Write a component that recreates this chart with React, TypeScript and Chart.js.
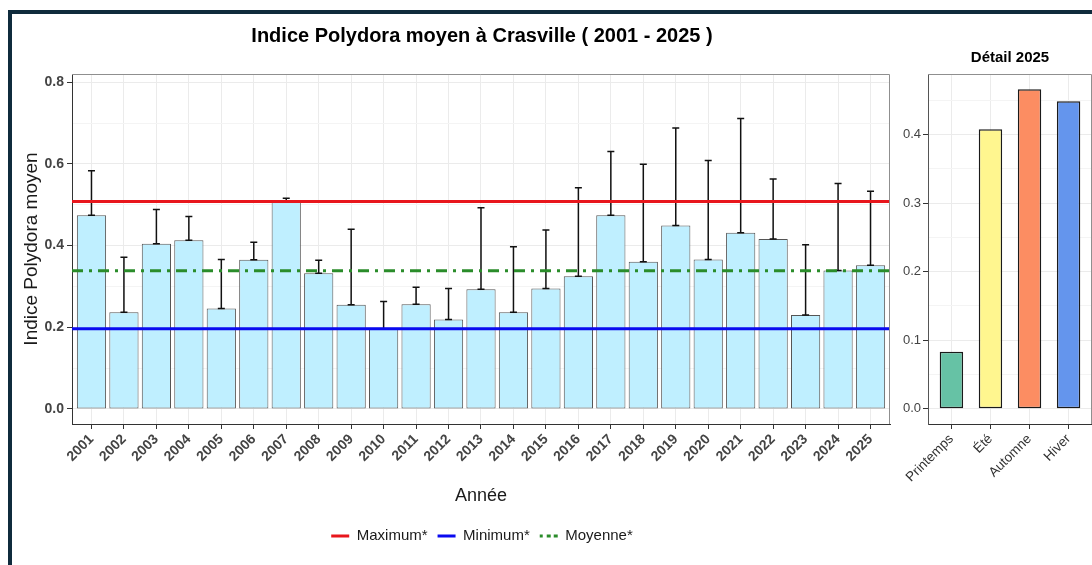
import React, { useEffect, useRef } from "react";
import { Chart, registerables } from "chart.js";

Chart.register(...registerables);

const FONT = "'Liberation Sans', Arial, Helvetica, sans-serif";

// ---- Data ----
const YEARS = [
  "2001", "2002", "2003", "2004", "2005", "2006", "2007", "2008", "2009", "2010",
  "2011", "2012", "2013", "2014", "2015", "2016", "2017", "2018", "2019", "2020",
  "2021", "2022", "2023", "2024", "2025",
];
const MEAN_INDEX = [
  0.474, 0.2365, 0.4045, 0.413, 0.246, 0.365, 0.508, 0.332, 0.255, 0.1965,
  0.256, 0.219, 0.293, 0.2365, 0.295, 0.325, 0.474, 0.36, 0.449, 0.366,
  0.431, 0.416, 0.23, 0.339, 0.352,
];
const ERROR_UPPER = [
  0.583, 0.371, 0.488, 0.471, 0.366, 0.408, 0.516, 0.364, 0.44, 0.263,
  0.298, 0.295, 0.4925, 0.397, 0.438, 0.5415, 0.63, 0.599, 0.688, 0.608,
  0.711, 0.563, 0.402, 0.552, 0.533,
];
const REF_LABELS = ["Maximum*", "Minimum*", "Moyenne*"];
const REF_VALUES = [0.508, 0.1965, 0.338];
const REF_COLORS = ["#e8161c", "#0a0af0", "#2a8c2a"];

const MAIN_Y_MAJOR = [0, 0.2, 0.4, 0.6, 0.8];
const MAIN_Y_MINOR = [0.1, 0.3, 0.5, 0.7];

const SEASONS = ["Printemps", "Été", "Automne", "Hiver"];
const SEASON_2025 = [0.083, 0.408, 0.4665, 0.449];
const SEASON_COLORS = ["#66c2a5", "#fff68f", "#fc8d62", "#6495ed"];
const DETAIL_Y_MAJOR = [0, 0.1, 0.2, 0.3, 0.4];
const DETAIL_Y_MINOR = [0.05, 0.15, 0.25, 0.35, 0.45];

const MAIN_TITLE = "Indice Polydora moyen à Crasville ( 2001 - 2025 )";
const DETAIL_TITLE = "Détail 2025";

const isIn = (list: number[], v: number) => list.some((m) => Math.abs(m - v) < 1e-6);

const frameTopRight = {
  id: "frameTopRight",
  afterDraw(chart: any) {
    const { ctx, chartArea: a } = chart;
    ctx.save();
    ctx.strokeStyle = "#8f8f8f";
    ctx.lineWidth = 1;
    ctx.beginPath();
    ctx.moveTo(a.left, a.top + 0.5);
    ctx.lineTo(a.right - 0.5, a.top + 0.5);
    ctx.lineTo(a.right - 0.5, a.bottom);
    ctx.stroke();
    ctx.restore();
  },
};

const errorBars = {
  id: "errorBars",
  afterDatasetDraw(chart: any, args: any) {
    if (args.meta.type !== "bar") return;
    const { ctx } = chart;
    const xs = chart.scales.x;
    const ys = chart.scales.y;
    ctx.save();
    ctx.strokeStyle = "#111";
    ctx.lineWidth = 1.5;
    YEARS.forEach((_, i) => {
      const px = xs.getPixelForValue(i);
      const y0 = ys.getPixelForValue(MEAN_INDEX[i]);
      const y1 = ys.getPixelForValue(ERROR_UPPER[i]);
      ctx.beginPath();
      ctx.moveTo(px, y0);
      ctx.lineTo(px, y1);
      ctx.moveTo(px - 3.5, y1);
      ctx.lineTo(px + 3.5, y1);
      ctx.moveTo(px - 3.5, y0);
      ctx.lineTo(px + 3.5, y0);
      ctx.stroke();
    });
    ctx.restore();
  },
};

const detailTitle = {
  id: "detailTitle",
  afterDraw(chart: any) {
    const { ctx, chartArea: a } = chart;
    ctx.save();
    ctx.font = `bold 15px ${FONT}`;
    ctx.fillStyle = "#000";
    ctx.textAlign = "center";
    ctx.textBaseline = "middle";
    ctx.fillText(DETAIL_TITLE, (a.left + a.right) / 2, 58);
    ctx.restore();
  },
};

function MainChart() {
  const ref = useRef<HTMLCanvasElement>(null);
  useEffect(() => {
    if (!ref.current) return;
    const refDash = [[], [], [11, 6, 3, 6]];
    const lineSets = REF_LABELS.map((label, k) => ({
      type: "line" as const,
      label,
      data: [
        { x: -0.6, y: REF_VALUES[k] },
        { x: YEARS.length - 0.4, y: REF_VALUES[k] },
      ],
      borderColor: REF_COLORS[k],
      backgroundColor: REF_COLORS[k],
      borderWidth: 3,
      borderDash: refDash[k],
      pointRadius: 0,
      pointStyle: "line",
      fill: false,
    }));
    const chart = new Chart(ref.current, {
      data: {
        datasets: [
          ...lineSets,
          {
            type: "bar" as const,
            label: "Indice",
            data: YEARS.map((_, i) => ({ x: i, y: MEAN_INDEX[i] })),
            backgroundColor: "#bfefff",
            borderColor: "#555",
            borderWidth: 1,
            borderSkipped: false,
            barPercentage: 0.9,
            categoryPercentage: 1,
          },
        ],
      } as any,
      options: {
        animation: false,
        responsive: false,
        events: [],
        layout: { padding: { top: 0, left: 0, right: 0, bottom: 11.5 } },
        plugins: {
          tooltip: { enabled: false },
          title: {
            display: true,
            text: MAIN_TITLE,
            color: "#000",
            font: { family: FONT, size: 20, weight: "bold" },
            padding: { top: 24, bottom: 26 },
          },
          legend: {
            position: "bottom",
            labels: {
              usePointStyle: true,
              pointStyle: "line",
              pointStyleWidth: 18,
              padding: 10,
              color: "#1a1a1a",
              font: { family: FONT, size: 15 },
              filter: (item: any) => item.datasetIndex < REF_LABELS.length,
              generateLabels: (chart: any) => {
                const items = (Chart.defaults.plugins.legend.labels as any).generateLabels(chart);
                return items.map((it: any) =>
                  it.datasetIndex === 2 ? { ...it, lineDash: [3, 4, 4, 3, 4, 100] } : it
                );
              },
            },
          },
        },
        scales: {
          x: {
            type: "linear",
            offset: false,
            min: -0.6,
            max: YEARS.length - 0.4,
            bounds: "data",
            afterBuildTicks: (s: any) => {
              s.ticks = YEARS.map((_, i) => ({ value: i }));
            },
            afterFit: (s: any) => {
              s.height = 94.5;
            },
            ticks: {
              autoSkip: false,
              minRotation: 45,
              maxRotation: 45,
              padding: 2,
              color: "#444",
              font: { family: FONT, size: 14, weight: "bold" },
              callback: (v: any) => YEARS[Math.round(v)] ?? "",
            },
            grid: { offset: false, color: "#ebebeb", tickColor: "#333", tickLength: 5 },
            border: { color: "#333", width: 1 },
            title: {
              display: true,
              text: "Année",
              color: "#1a1a1a",
              font: { family: FONT, size: 18 },
              padding: { top: 0, bottom: 12 },
            },
          },
          y: {
            type: "linear",
            min: -0.037,
            max: 0.82,
            bounds: "data",
            afterBuildTicks: (s: any) => {
              s.ticks = [...MAIN_Y_MAJOR, ...MAIN_Y_MINOR]
                .sort((a, b) => a - b)
                .map((value) => ({ value }));
            },
            afterFit: (s: any) => {
              s.width = 72;
            },
            ticks: {
              padding: 3,
              color: "#444",
              font: { family: FONT, size: 14, weight: "bold" },
              callback: (v: any) => (isIn(MAIN_Y_MAJOR, v) ? Number(v).toFixed(1) : ""),
            },
            grid: {
              color: (c: any) => (isIn(MAIN_Y_MAJOR, c.tick?.value) ? "#ebebeb" : "#f4f4f4"),
              tickColor: (c: any) => (isIn(MAIN_Y_MAJOR, c.tick?.value) ? "#333" : "rgba(0,0,0,0)"),
              tickLength: 5,
            },
            border: { color: "#333", width: 1 },
            title: {
              display: true,
              text: "Indice Polydora moyen",
              color: "#1a1a1a",
              font: { family: FONT, size: 19 },
              padding: { top: 20.5, bottom: 0 },
            },
          },
          yR: {
            type: "linear",
            position: "right",
            display: true,
            min: 0,
            max: 1,
            ticks: { display: false },
            grid: { display: false, drawTicks: false },
            border: { display: false },
            afterFit: (s: any) => {
              s.width = 74;
            },
          },
        },
      } as any,
      plugins: [errorBars, frameTopRight],
    });
    return () => chart.destroy();
  }, []);
  return (
    <canvas
      ref={ref}
      width={964}
      height={565}
      style={{ position: "fixed", left: 0, top: 0, width: 964, height: 565, zIndex: 1 }}
    />
  );
}

function DetailChart() {
  const ref = useRef<HTMLCanvasElement>(null);
  useEffect(() => {
    if (!ref.current) return;
    const chart = new Chart(ref.current, {
      type: "bar",
      data: {
        datasets: [
          {
            label: DETAIL_TITLE,
            data: SEASONS.map((_, i) => ({ x: i, y: SEASON_2025[i] })),
            backgroundColor: SEASON_COLORS,
            borderColor: "#1a1a1a",
            borderWidth: 1.5,
            borderSkipped: false,
            barPercentage: 0.6,
            categoryPercentage: 1,
          },
        ],
      } as any,
      options: {
        animation: false,
        responsive: false,
        events: [],
        layout: { padding: { top: 74, left: 0, right: 0, bottom: 0 } },
        plugins: {
          tooltip: { enabled: false },
          legend: { display: false },
          title: { display: false },
        },
        scales: {
          x: {
            type: "linear",
            offset: false,
            min: -0.6,
            max: SEASONS.length - 0.4,
            bounds: "data",
            afterBuildTicks: (s: any) => {
              s.ticks = SEASONS.map((_, i) => ({ value: i }));
            },
            afterFit: (s: any) => {
              s.height = 141;
            },
            ticks: {
              autoSkip: false,
              minRotation: 45,
              maxRotation: 45,
              padding: 2,
              color: "#333",
              font: { family: FONT, size: 13.5 },
              callback: (v: any) => SEASONS[Math.round(v)] ?? "",
            },
            grid: { offset: false, color: "#ebebeb", tickColor: "#333", tickLength: 5 },
            border: { color: "#333", width: 1 },
          },
          y: {
            type: "linear",
            min: -0.0223,
            max: 0.4886,
            bounds: "data",
            afterBuildTicks: (s: any) => {
              s.ticks = [...DETAIL_Y_MAJOR, ...DETAIL_Y_MINOR]
                .sort((a, b) => a - b)
                .map((value) => ({ value }));
            },
            afterFit: (s: any) => {
              s.width = 33;
            },
            ticks: {
              padding: 2,
              color: "#444",
              font: { family: FONT, size: 13 },
              callback: (v: any) => (isIn(DETAIL_Y_MAJOR, v) ? Number(v).toFixed(1) : ""),
            },
            grid: {
              color: (c: any) => (isIn(DETAIL_Y_MAJOR, c.tick?.value) ? "#ebebeb" : "#f4f4f4"),
              tickColor: (c: any) => (isIn(DETAIL_Y_MAJOR, c.tick?.value) ? "#333" : "rgba(0,0,0,0)"),
              tickLength: 5,
            },
            border: { color: "#555", width: 1 },
          },
        },
      } as any,
      plugins: [frameTopRight, detailTitle],
    });
    return () => chart.destroy();
  }, []);
  return (
    <canvas
      ref={ref}
      width={197}
      height={565}
      style={{ position: "fixed", left: 895, top: 0, width: 197, height: 565, zIndex: 2 }}
    />
  );
}

export default function App() {
  return (
    <div>
      <div
        style={{
          position: "fixed",
          left: 8,
          top: 10,
          right: 0,
          bottom: 0,
          borderTop: "4px solid #0f2b3c",
          borderLeft: "4px solid #0f2b3c",
          background: "#fff",
          zIndex: 0,
        }}
      />
      <MainChart />
      <DetailChart />
    </div>
  );
}
